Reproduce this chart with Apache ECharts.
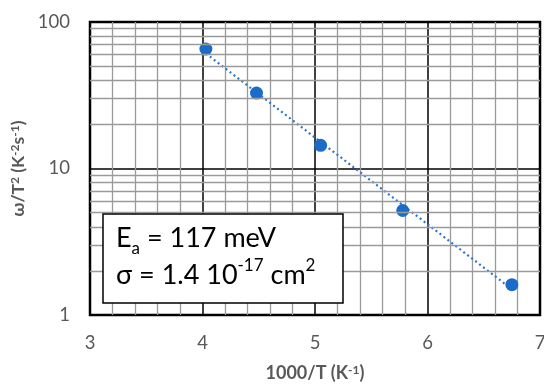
<!DOCTYPE html>
<html><head><meta charset="utf-8">
<script src="https://cdn.jsdelivr.net/npm/echarts@6/dist/echarts.min.js"></script>
<style>html,body{margin:0;padding:0;background:#fff}#c{width:544px;height:384px}</style>
</head><body><div id="c"></div>
<script>
var xData = [4.03, 4.48, 5.05, 5.78, 6.75];
var yData = [65.4, 32.7, 14.4, 5.17, 1.61];
var trendX = [4.03, 6.75];
var trendY = [61, 1.5];
var yMinor = [2,3,4,5,6,7,8,9,20,30,40,50,60,70,80,90];
var xTicks = [3,4,5,6,7];
var yTicks = [1,10,100];

var FONT = 'Lato, "Open Sans", sans-serif';
var GRAY = '#595959';
var chart = echarts.init(document.getElementById('c'));
chart.setOption({
  animation: false,
  backgroundColor: '#fff',
  grid: {left: 90, right: 4, top: 22, bottom: 69, outerBoundsMode: 'none', containLabel: false,
         show: true, borderColor: '#000', borderWidth: 2.5, backgroundColor: 'transparent'},
  xAxis: {
    type: 'value', min: xTicks[0], max: xTicks[xTicks.length-1], interval: 1,
    axisLine: {show: false}, axisTick: {show: false},
    axisLabel: {color: GRAY, fontSize: 18.5, fontFamily: FONT, margin: 19},
    splitLine: {show: true, lineStyle: {color: '#000', width: 1.5}},
    minorTick: {show: false, splitNumber: 5},
    minorSplitLine: {show: true, lineStyle: {color: '#9a9a9a', width: 1.3}},
    name: '{b|1000/T (K}{s|-1}{b|)}', nameLocation: 'middle', nameGap: 49,
    nameTextStyle: {rich: {
      b: {fontSize: 18, fontWeight: 'bold', color: GRAY, fontFamily: FONT},
      s: {fontSize: 12, fontWeight: 'bold', color: GRAY, fontFamily: FONT, verticalAlign: 'top', padding: [0,0,6,0]}
    }}
  },
  yAxis: {
    type: 'log', logBase: 10, min: yTicks[0], max: yTicks[yTicks.length-1],
    axisLine: {show: false}, axisTick: {show: false},
    axisLabel: {color: GRAY, fontSize: 18.5, fontFamily: FONT, margin: 20},
    splitLine: {show: true, lineStyle: {color: '#000', width: 1.5}},
    name: '{b|ω/T}{s|2}{b| (K}{s|-2}{b|s}{s|-1}{b|)}', nameLocation: 'middle', nameGap: 55, nameRotate: 90,
    nameTextStyle: {rich: {
      b: {fontSize: 17.5, fontWeight: 'bold', color: GRAY, fontFamily: FONT},
      s: {fontSize: 12, fontWeight: 'bold', color: GRAY, fontFamily: FONT, verticalAlign: 'top', padding: [0,0,6,0]}
    }}
  },
  series: [
    {
      type: 'line', z: 1, silent: true, showSymbol: false,
      data: trendX.map(function(x,i){return [x, trendY[i]];}),
      lineStyle: {opacity: 0},
      markLine: {
        silent: true, symbol: 'none', label: {show: false},
        lineStyle: {color: '#9a9a9a', width: 1.3, type: 'solid'},
        data: yMinor.map(function(v){return {yAxis: v};})
      }
    },
    {
      type: 'line', z: 3, showSymbol: false, silent: true,
      data: trendX.map(function(x,i){return [x, trendY[i]];}),
      lineStyle: {color: '#2a76cf', width: 2.2, type: [2, 3]}
    },
    {
      type: 'scatter', z: 4, symbolSize: 13,
      itemStyle: {color: '#1a6cc8', opacity: 1},
      data: xData.map(function(x,i){return [x, yData[i]];})
    }
  ],
  graphic: [
    {type: 'rect', z: 100, shape: {x: 103, y: 214, width: 240, height: 89},
     style: {fill: '#fff', stroke: '#000', lineWidth: 1.5}},
    {type: 'text', z: 101, left: 116, top: 225,
     style: {
       text: '{n|E}{sub|a}{n| = 117 meV}\n{n|σ = 1.4 10}{sup|-17}{n| cm}{sup|2}',
       rich: {
         n: {fontSize: 27, fontFamily: FONT, fill: '#000', lineHeight: 37},
         sub: {fontSize: 17, fontFamily: FONT, fill: '#000', verticalAlign: 'bottom', lineHeight: 37, padding: [12,0,0,0]},
         sup: {fontSize: 17, fontFamily: FONT, fill: '#000', verticalAlign: 'top', lineHeight: 37, padding: [0,0,12,0]}
       }
     }}
  ]
});
</script></body></html>
